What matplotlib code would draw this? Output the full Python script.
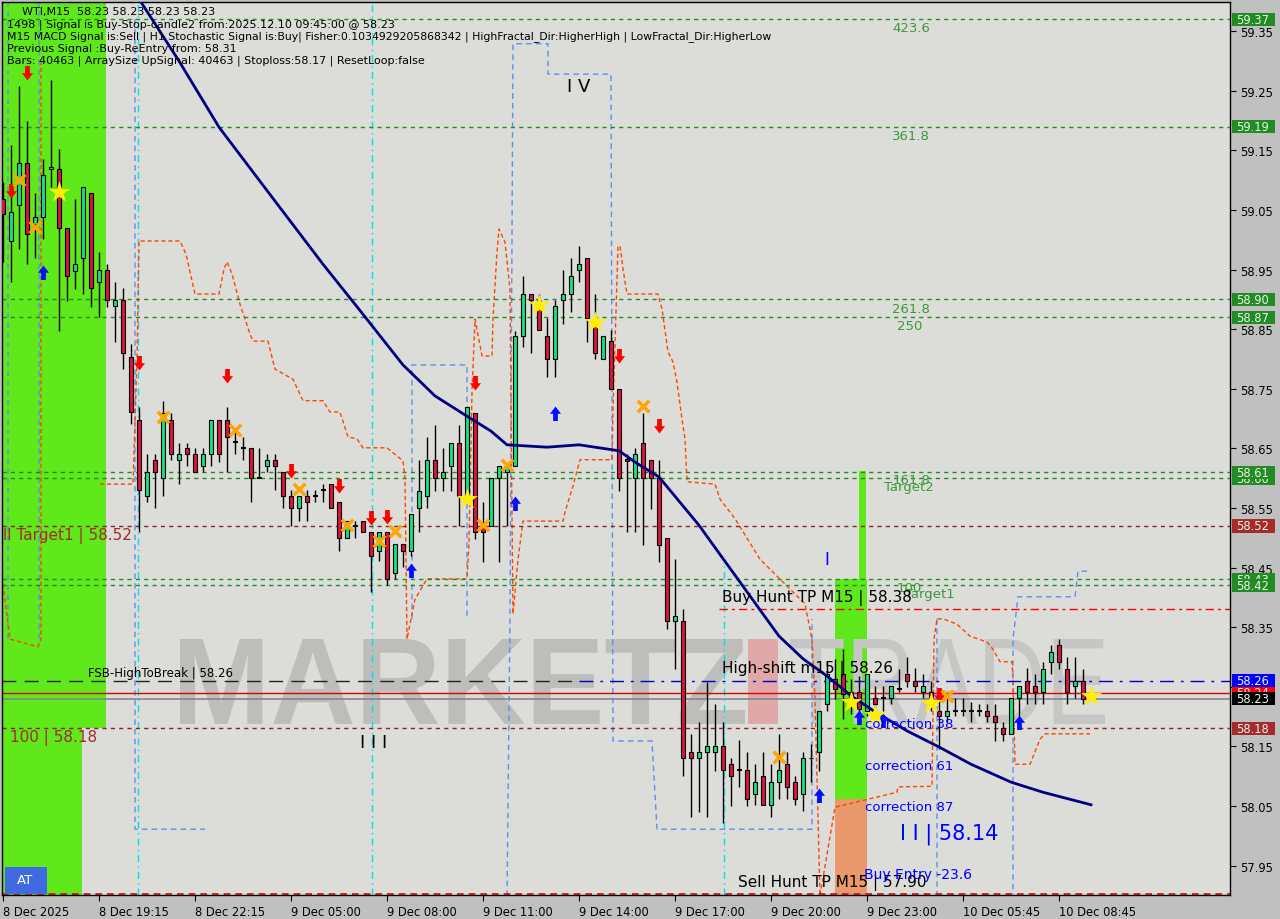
import matplotlib
matplotlib.use("Agg")
import matplotlib.pyplot as plt
import numpy as np
from matplotlib.path import Path
from matplotlib.patches import PathPatch, Rectangle
from matplotlib.textpath import TextPath
from matplotlib.font_manager import FontProperties
from matplotlib.transforms import Affine2D, IdentityTransform, blended_transform_factory

W, H = 1280, 920

# WTI M15 candles, bar 0 = 8 Dec 2025 16:15
opens = [59.068, 58.998, 59.058, 59.129, 59.027, 59.038, 59.119, 59.119, 59.020, 58.948,
         58.969, 59.079, 58.929, 58.949, 58.889, 58.899, 58.803, 58.698, 58.570, 58.631,
         58.600, 58.698, 58.631, 58.651, 58.641, 58.620, 58.641, 58.698, 58.698, 58.661,
         58.651, 58.651, 58.600, 58.620, 58.631, 58.610, 58.570, 58.550, 58.570, 58.570,
         58.580, 58.590, 58.560, 58.500, 58.520, 58.528, 58.510, 58.478, 58.510, 58.441,
         58.490, 58.478, 58.550, 58.570, 58.631, 58.600, 58.620, 58.659, 58.570, 58.709,
         58.518, 58.520, 58.600, 58.610, 58.620, 58.839, 58.909, 58.899, 58.839, 58.800,
         58.899, 58.909, 58.949, 58.969, 58.859, 58.800, 58.830, 58.750, 58.632, 58.600,
         58.659, 58.631, 58.600, 58.500, 58.360, 58.360, 58.141, 58.130, 58.141, 58.141,
         58.151, 58.120, 58.110, 58.110, 58.070, 58.100, 58.052, 58.090, 58.120, 58.090,
         58.070, 58.130, 58.141, 58.221, 58.263, 58.271, 58.241, 58.241, 58.209, 58.231,
         58.231, 58.231, 58.246, 58.271, 58.260, 58.241, 58.241, 58.209, 58.201, 58.209,
         58.209, 58.209, 58.209, 58.209, 58.201, 58.181, 58.171, 58.231, 58.260, 58.251,
         58.241, 58.292, 58.320, 58.280, 58.251, 58.260]
highs = [59.097, 59.159, 59.258, 59.199, 59.079, 59.136, 59.268, 59.152, 59.020, 59.068,
         59.089, 59.079, 58.979, 58.959, 58.929, 58.919, 58.825, 58.719, 58.641, 58.641,
         58.730, 58.709, 58.659, 58.659, 58.651, 58.651, 58.698, 58.698, 58.719, 58.677,
         58.669, 58.651, 58.651, 58.641, 58.641, 58.610, 58.580, 58.570, 58.580, 58.580,
         58.590, 58.590, 58.560, 58.528, 58.528, 58.528, 58.510, 58.510, 58.510, 58.490,
         58.490, 58.540, 58.631, 58.669, 58.689, 58.651, 58.659, 58.689, 58.719, 58.709,
         58.560, 58.600, 58.620, 58.620, 58.847, 58.939, 58.909, 58.909, 58.869, 58.899,
         58.949, 58.969, 58.990, 58.969, 58.909, 58.839, 58.849, 58.750, 58.641, 58.651,
         58.709, 58.631, 58.631, 58.500, 58.464, 58.381, 58.171, 58.191, 58.258, 58.221,
         58.191, 58.130, 58.161, 58.141, 58.120, 58.141, 58.120, 58.171, 58.141, 58.100,
         58.141, 58.154, 58.209, 58.292, 58.297, 58.313, 58.263, 58.268, 58.271, 58.251,
         58.251, 58.251, 58.280, 58.300, 58.282, 58.271, 58.260, 58.231, 58.231, 58.231,
         58.231, 58.224, 58.221, 58.221, 58.221, 58.191, 58.231, 58.251, 58.282, 58.271,
         58.292, 58.320, 58.330, 58.300, 58.300, 58.280]
lows = [58.963, 58.929, 58.985, 58.959, 58.969, 59.001, 59.089, 58.847, 58.897, 58.917,
        58.909, 58.887, 58.870, 58.887, 58.828, 58.783, 58.691, 58.510, 58.560, 58.550,
        58.570, 58.631, 58.590, 58.620, 58.610, 58.610, 58.620, 58.627, 58.610, 58.641,
        58.631, 58.560, 58.600, 58.610, 58.580, 58.550, 58.520, 58.528, 58.528, 58.560,
        58.560, 58.550, 58.478, 58.500, 58.500, 58.510, 58.409, 58.461, 58.421, 58.431,
        58.451, 58.469, 58.510, 58.550, 58.578, 58.578, 58.578, 58.520, 58.565, 58.498,
        58.459, 58.520, 58.459, 58.520, 58.620, 58.820, 58.810, 58.849, 58.770, 58.770,
        58.859, 58.879, 58.929, 58.828, 58.800, 58.800, 58.750, 58.578, 58.510, 58.510,
        58.488, 58.548, 58.459, 58.347, 58.280, 58.100, 58.032, 58.040, 58.032, 58.109,
        58.021, 58.050, 58.082, 58.050, 58.052, 58.052, 58.032, 58.062, 58.062, 58.052,
        58.042, 58.090, 58.109, 58.209, 58.229, 58.196, 58.204, 58.196, 58.201, 58.204,
        58.209, 58.221, 58.241, 58.250, 58.241, 58.231, 58.209, 58.146, 58.191, 58.201,
        58.201, 58.191, 58.201, 58.191, 58.159, 58.159, 58.171, 58.201, 58.221, 58.221,
        58.221, 58.271, 58.280, 58.221, 58.231, 58.221]
closes = [59.043, 59.047, 59.129, 59.010, 59.038, 59.109, 59.122, 59.020, 58.939, 58.959,
          59.089, 58.919, 58.949, 58.899, 58.899, 58.810, 58.711, 58.580, 58.610, 58.610,
          58.709, 58.641, 58.641, 58.641, 58.610, 58.641, 58.698, 58.641, 58.669, 58.661,
          58.651, 58.600, 58.600, 58.631, 58.620, 58.570, 58.550, 58.570, 58.560, 58.570,
          58.580, 58.550, 58.500, 58.528, 58.520, 58.510, 58.469, 58.510, 58.431, 58.490,
          58.478, 58.540, 58.578, 58.631, 58.600, 58.610, 58.659, 58.570, 58.719, 58.510,
          58.510, 58.600, 58.620, 58.620, 58.839, 58.909, 58.899, 58.849, 58.800, 58.889,
          58.909, 58.939, 58.959, 58.869, 58.810, 58.839, 58.750, 58.600, 58.629, 58.641,
          58.600, 58.600, 58.488, 58.360, 58.369, 58.130, 58.130, 58.141, 58.151, 58.151,
          58.110, 58.100, 58.110, 58.062, 58.090, 58.052, 58.090, 58.110, 58.082, 58.062,
          58.130, 58.130, 58.209, 58.271, 58.246, 58.238, 58.229, 58.213, 58.271, 58.221,
          58.231, 58.251, 58.246, 58.260, 58.251, 58.251, 58.231, 58.201, 58.209, 58.209,
          58.209, 58.209, 58.209, 58.201, 58.191, 58.171, 58.231, 58.251, 58.241, 58.241,
          58.280, 58.308, 58.292, 58.241, 58.260, 58.229]

# moving average (navy)
ma_idx = [15, 17, 22, 27, 34, 40, 45, 50, 54, 58, 61, 63, 68, 72, 77, 79, 82, 87, 90, 92,
          95, 97, 100, 103, 106, 109, 113, 117, 121, 126, 130, 136]
ma_val = [59.452, 59.404, 59.300, 59.189, 59.065, 58.959, 58.875, 58.790, 58.738, 58.704,
          58.679, 58.656, 58.652, 58.656, 58.646, 58.627, 58.602, 58.521, 58.465, 58.428,
          58.372, 58.335, 58.297, 58.268, 58.235, 58.208, 58.176, 58.149, 58.120, 58.090,
          58.073, 58.052]

# orange dashed envelope
nan = np.nan
env_idx = [0, 0.875, 4.375, 4.75, 4.75, nan,
           12.125, 16.25, 16.75, 17, 22.125, 22.875, 24, 27, 27.625, 28, 28.625, 29.625,
           30.875, 31.25, 33.125, 34, 36.25, 37.5, 40, 40.875, 42.125, 43.125, 44.25, 45,
           48, 50, 50.25, 50.5, 51.5, 53, 58, 58.25, 58.625, 59, 59.875, 61.125, 61.25,
           61.75, 62, 62.75, 63.375, 63.625, 63.75, 64.375, 65, 70, 70.25, 71.25, 72.125,
           76.125, 76.25, 76.875, 77.125, 77.5, 78, 81.875, 82.375, 83.125, 83.75, 84.25,
           84.875, 85.25, 85.5, 89, 89.625, 91.5, 94.625, 98.375, 100.25, 101.125, 101.5,
           102.125, 104, 111.75, 111.875, 116.125, 116.375, 116.75, 117.5, 119.25, 120.875,
           123, 123.75, 124.625, 126.125, 126.25, 126.5, 128.375, 129.625, 130.25, 135.875]
env_val = [58.422, 58.330, 58.317, 58.330, 59.303, nan,
           58.590, 58.590, 58.800, 58.998, 58.998, 58.976, 58.909, 58.909, 58.951, 58.963,
           58.943, 58.892, 58.842, 58.830, 58.830, 58.783, 58.766, 58.730, 58.730, 58.711,
           58.711, 58.669, 58.666, 58.651, 58.651, 58.629, 58.599, 58.330, 58.397, 58.431,
           58.431, 58.490, 58.745, 58.867, 58.805, 58.805, 58.867, 58.979, 59.018, 58.996,
           58.917, 58.537, 58.372, 58.464, 58.528, 58.528, 58.543, 58.587, 58.631, 58.631,
           58.716, 58.988, 58.990, 58.951, 58.909, 58.909, 58.884, 58.812, 58.795, 58.761,
           58.699, 58.666, 58.594, 58.590, 58.565, 58.532, 58.464, 58.414, 58.389, 58.330,
           58.229, 57.899, 58.048, 58.073, 58.082, 58.083, 58.330, 58.364, 58.364, 58.355,
           58.335, 58.325, 58.313, 58.292, 58.292, 58.263, 58.120, 58.120, 58.162, 58.171,
           58.171]

# light blue dashed channel
chan_idx = [0.625, 0.625, nan, 4.5, 4.5, nan, 16.5, 16.5, 25.25, nan,
            51.125, 51.125, 58, 58, nan,
            63, 63.375, 63.75, 68.125, 68.125, 76, 76.25, 81.125, 81.75, 101.125, 101.125, nan,
            116.75, 116.75, 126.25, 126.25, 126.875, 134, 134.375, 135.875]
chan_val = [59.40, 58.322, nan, 59.40, 58.322, nan, 59.370, 58.011, 58.011, nan,
            58.364, 58.790, 58.790, 58.364, nan,
            57.899, 58.364, 59.329, 59.329, 59.278, 59.278, 58.159, 58.159, 58.011, 58.011, 58.364, nan,
            58.364, 57.899, 57.899, 58.330, 58.401, 58.401, 58.444, 58.444]

# cyan separators: bar index, top price
sep_idx = [16.875, 46.125, 90.125]
sep_top = [59.40, 59.40, 58.464]

green_levels = [59.37, 59.19, 58.90, 58.87, 58.61, 58.60, 58.43, 58.42]
brown_levels = [58.52, 58.18]
fsb_level = 58.26
buy_hunt = 58.38
sell_hunt = 57.90
bid_level = 58.23
ask_level = 58.24

# signal markers (bar index, price)
down_idx = [3, 1, 17, 28, 36, 42, 46, 48, 59, 77, 82, 117]
down_val = [59.278, 59.080, 58.792, 58.770, 58.610, 58.585, 58.532, 58.533, 58.758, 58.803, 58.686, 58.234]
up_idx = [5, 51, 64, 69, 102, 107, 110, 127]
up_val = [58.948, 58.448, 58.560, 58.711, 58.070, 58.201, 58.196, 58.193]
x_idx = [2, 4, 20, 29, 37, 43, 47, 49, 60, 63, 80, 97, 118]
x_val = [59.100, 59.021, 58.703, 58.681, 58.582, 58.522, 58.495, 58.511, 58.522, 58.622, 58.721, 58.132, 58.235]
star_idx = [7, 58, 67, 74, 106, 109, 116, 136]
star_val = [59.080, 58.565, 58.891, 58.862, 58.224, 58.203, 58.223, 58.235]

tick_idx = [0, 12, 24, 36, 48, 60, 72, 84, 96, 108, 120, 132]
tick_labels = ["8 Dec 2025", "8 Dec 19:15", "8 Dec 22:15", "9 Dec 05:00", "9 Dec 08:00",
               "9 Dec 11:00", "9 Dec 14:00", "9 Dec 17:00", "9 Dec 20:00", "9 Dec 23:00",
               "10 Dec 05:45", "10 Dec 08:45"]
price_ticks = [57.95, 58.05, 58.15, 58.25, 58.35, 58.45, 58.55, 58.65, 58.75, 58.85,
               58.95, 59.05, 59.15, 59.25, 59.35]

# drawn in this order (later ones cover earlier)
tag_prices = [59.37, 59.19, 58.90, 58.87, 58.60, 58.61, 58.52, 58.43, 58.42, 58.18, 58.24, 58.26, 58.23]
tag_colors = ['#238b23'] * 6 + ['#a52a2a', '#238b23', '#238b23', '#a52a2a', '#ff0000', '#0000ff', '#000000']

# ---------------------------------------------------------------
fig = plt.figure(figsize=(W / 100, H / 100), dpi=100)
fig.patch.set_facecolor('#c0c0c0')
ax = fig.add_axes([2 / W, 24 / H, 1228 / W, 893 / H])
ax.set_facecolor('#dcdcd8')
ax.set_xlim(-0.125, 153.375)
ax.set_ylim(57.9006, 59.399)
for s in ax.spines.values():
    s.set_color('black')
    s.set_linewidth(1)

# highlighted zones
ax.add_patch(Rectangle((-0.125, 58.18), 13.0, 1.3, color='#5fe81a', zorder=0.5, lw=0))
ax.add_patch(Rectangle((-0.125, 57.85), 10.0, 0.33, color='#5fe81a', zorder=0.5, lw=0))
ax.add_patch(Rectangle((104, 58.062), 4, 58.431 - 58.062, color='#5fe81a', zorder=0.5, lw=0))
ax.add_patch(Rectangle((104, 57.85), 4, 58.062 - 57.85, color='#e9996b', zorder=0.5, lw=0))
ax.add_patch(Rectangle((107, 58.431), 0.9, 58.612 - 58.431, color='#5fe81a', zorder=0.5, lw=0))


# watermark (pixel box, y measured from the top)
def word(text, x0, x1, ytop, ybot, color, weight):
    tp = TextPath((0, 0), text, size=100,
                  prop=FontProperties(family='Liberation Sans', weight=weight))
    e = tp.get_extents()
    tr = (Affine2D().translate(-e.x0, -e.y0)
          .scale((x1 - x0) / e.width, (ybot - ytop) / e.height)
          .translate(x0, H - ybot))
    ax.add_patch(PathPatch(tr.transform_path(tp), facecolor=color, edgecolor='none',
                           transform=IdentityTransform(), zorder=0.6))


word("MARKETZ", 180, 745, 640, 725, '#bdbdbb', 'bold')
word("TRADE", 790, 1105, 640, 725, '#c6c6c4', 'normal')
ax.add_artist(Rectangle((748, H - 725), 30, 85, transform=IdentityTransform(),
                        color='#e0a8a8', zorder=0.6, lw=0))

# level lines
for p in green_levels:
    ax.axhline(p, color='#228b22', lw=1, ls=(0, (3, 3)), zorder=2)
for p in brown_levels:
    ax.axhline(p, color='#8b2323', lw=1, ls=(0, (3, 3)), zorder=2)
ax.plot([-0.125, 72], [fsb_level, fsb_level], color='#202020', lw=1, ls=(0, (10, 6)), zorder=2)
ax.plot([72, 153.375], [fsb_level, fsb_level], color='#0000c8', lw=1, ls=(0, (10, 5, 2, 5)), zorder=2)
ax.plot([89.5, 153.375], [buy_hunt, buy_hunt], color='#ff0000', lw=1, ls=(0, (6, 3, 2, 3)), zorder=2)
ax.axhline(sell_hunt + 0.002, color='#e00000', lw=1.2, ls=(0, (4, 3)), zorder=2)
ax.axhline(ask_level, color='#e00000', lw=1, zorder=2)
ax.axhline(bid_level, color='#7f8890', lw=1.2, zorder=2)

for xi, top in zip(sep_idx, sep_top):
    ax.plot([xi, xi], [57.9, top], color='#00e0f0', lw=1, ls=(0, (5, 3, 1, 3)), zorder=1.5)
ax.plot(chan_idx, chan_val, color='#5a90ee', lw=1, ls=(0, (4, 3)), zorder=1.6)
ax.plot(env_idx, env_val, color='#ff4500', lw=1, ls=(0, (3, 2)), zorder=1.7)

# candles
o = np.array(opens); h = np.array(highs); lo = np.array(lows); c = np.array(closes)
idx = np.arange(len(o))
ax.vlines(idx, lo, h, color='black', lw=1, zorder=3)
doji = np.abs(c - o) < 0.002
cols = np.where(c > o, '#10e47c', '#dc143c')
cols = np.where(doji, '#000000', cols)
ax.bar(idx, np.where(doji, 0.0012, np.abs(c - o)), bottom=np.minimum(o, c), width=0.62,
       color=cols, edgecolor='black', linewidth=0.8, zorder=4)

ax.plot(ma_idx, ma_val, color='#000080', lw=2, zorder=5)

# markers
arrow_down = Path([(-0.28, 1), (0.28, 1), (0.28, 0.15), (0.65, 0.15), (0, -0.7),
                   (-0.65, 0.15), (-0.28, 0.15), (-0.28, 1)], closed=True)
arrow_up = Path([(x, -y) for x, y in arrow_down.vertices], closed=True)
ax.scatter(down_idx, down_val, marker=arrow_down, s=150, color='#ff0000', zorder=6, lw=0)
ax.scatter(up_idx, up_val, marker=arrow_up, s=150, color='#0010ff', zorder=6, lw=0)
ax.scatter(x_idx, x_val, marker='x', s=70, color='#ffa500', linewidths=2.5, zorder=6)
ax.scatter(star_idx, star_val, marker='*', s=260, color='#ffee00', zorder=6, lw=0)

# axes ticks
ax.yaxis.tick_right()
ax.set_yticks(price_ticks)
ax.set_yticklabels([f"{p:.2f}" for p in price_ticks])
ax.tick_params(axis='y', length=4, pad=3, labelsize=8.3, colors='black')
ax.set_xticks(tick_idx)
ax.set_xticklabels(tick_labels, ha='left')
ax.tick_params(axis='x', length=4, pad=3, labelsize=8.3)

# price tags
btr = blended_transform_factory(fig.transFigure, ax.transData)
for p, col in zip(tag_prices, tag_colors):
    ax.add_patch(Rectangle((1232 / W, p - 0.0112), 43 / W, 0.0224, transform=btr,
                           color=col, clip_on=False, zorder=7, lw=0))
    ax.text(1236 / W, p, f"{p:.2f}", transform=btr, color='#eaf5ea', fontsize=8.3,
            va='center', ha='left', clip_on=False, zorder=7)


def ptext(x, y, s, **kw):
    kw.setdefault('va', 'center')
    kw.setdefault('ha', 'left')
    fig.text(x / W, 1 - y / H, s, **kw)


# header
ptext(22, 12, "WTI,M15  58.23 58.23 58.23 58.23", fontsize=8, color='black')
ptext(7, 25, "1498 | Signal is Buy-Stop-candle2 from:2025.12.10 09:45:00 @ 58.23", fontsize=8)
ptext(7, 37, "M15 MACD Signal is:Sell | H1 Stochastic Signal is:Buy| Fisher:0.1034929205868342 "
             "| HighFractal_Dir:HigherHigh | LowFractal_Dir:HigherLow", fontsize=7.8)
ptext(7, 49, "Previous Signal :Buy-ReEntry from: 58.31", fontsize=8)
ptext(7, 61, "Bars: 40463 | ArraySize UpSignal: 40463 | Stoploss:58.17 | ResetLoop:false", fontsize=8)

fib = '#3a9a3a'
ptext(892, 29, "423.6", fontsize=9.5, color=fib)
ptext(892, 136, "361.8", fontsize=9.5, color=fib)
ptext(892, 310, "261.8", fontsize=9.5, color=fib)
ptext(897, 327, "250", fontsize=9.5, color=fib)
ptext(893, 481, "161.8", fontsize=9.5, color=fib)
ptext(884, 488, "Target2", fontsize=9.5, color=fib)
ptext(897, 589, "100", fontsize=9.5, color=fib)
ptext(905, 595, "Target1", fontsize=9.5, color=fib)

ptext(567, 87, "I V", fontsize=13, color='black')
ptext(360, 743, "I I I", fontsize=13, color='black')
ptext(88, 674, "FSB-HighToBreak | 58.26", fontsize=8.5, color='black')
ptext(722, 598, "Buy Hunt TP M15 | 58.38", fontsize=11, color='black')
ptext(722, 669, "High-shift m15 | 58.26", fontsize=11, color='black')
ptext(738, 883, "Sell Hunt TP M15 | 57.90", fontsize=11, color='black')
ptext(3, 536, "ll Target1 | 58.52", fontsize=11, color='#a52a2a')
ptext(10, 738, "100 | 58.18", fontsize=11, color='#a52a2a')

blue = '#0000ff'
ptext(824, 560, "I", fontsize=12, color=blue)
ptext(865, 725, "correction 38", fontsize=9.5, color=blue)
ptext(865, 767, "correction 61", fontsize=9.5, color=blue)
ptext(865, 808, "correction 87", fontsize=9.5, color=blue)
ptext(864, 875, "Buy Entry -23.6", fontsize=10, color=blue)
ptext(900, 834, "I I | 58.14", fontsize=15, color=blue)

fig.add_artist(Rectangle((5 / W, 1 - 895 / H), 42 / W, 27 / H, transform=fig.transFigure,
                         color='#4169e1', lw=0))
ptext(17, 881, "AT", fontsize=9.5, color='white')

fig.savefig('out.png', dpi=100)
